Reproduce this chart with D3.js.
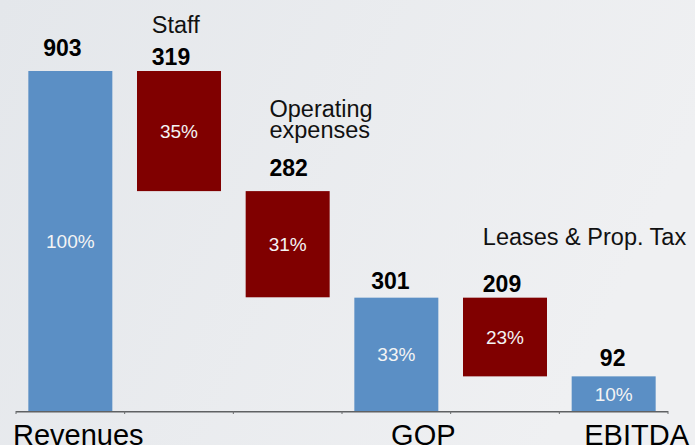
<!DOCTYPE html>
<html>
<head>
<meta charset="utf-8">
<script src="https://cdn.jsdelivr.net/npm/d3@7"></script>
<style>
  body { margin: 0; }
  text { font-family: "Liberation Sans", Arial, sans-serif; }
</style>
</head>
<body>
<div id="chart"></div>
<script>
// waterfall data
const categories = ["Revenues", "Staff", "Operating expenses", "GOP", "Leases & Prop. Tax", "EBITDA"]
const values = [903, 319, 282, 301, 209, 92]
const percents = ["100%", "35%", "31%", "33%", "23%", "10%"]
const kinds = ["total", "cost", "cost", "total", "cost", "total"]
const nameLines = [[], ["Staff"], ["Operating", "expenses"], [], ["Leases & Prop. Tax"], []]
const axisLabels = ["Revenues", "", "", "GOP", "", "EBITDA"]

// label nudges (layout only)
const valueDx = [-8, -8, 1, -6, -3, -1]
const valueGap = [15, 6, 15, 9, 6, 10]
const nameGap = [0, 32, 38, 0, 47, 0]
const axisDx = [8, 0, 0, 27, 0, 23]

const W = 695, H = 445
const baseY = 411

const svg = d3.select("#chart")
  .append("svg")
  .attr("width", W)
  .attr("height", H)

// background
const grad = svg.append("defs").append("linearGradient")
  .attr("id", "bg").attr("x1", "0").attr("y1", "0").attr("x2", "1").attr("y2", "0.3")
grad.append("stop").attr("offset", "0").attr("stop-color", "#e4e7eb")
grad.append("stop").attr("offset", "1").attr("stop-color", "#eff0f2")
svg.append("rect").attr("width", W).attr("height", H).attr("fill", "url(#bg)")

// scales
const x = d3.scaleBand()
  .domain(categories)
  .range([16, 668])
  .paddingInner(0.227)
  .paddingOuter(0.1135)

const y = d3.scaleLinear()
  .domain([0, 903])
  .range([baseY, 71])

// running totals for the floating bars
let running = 0
const bars = categories.map((c, i) => {
  let lo, hi
  if (kinds[i] === "total") {
    lo = 0; hi = values[i]; running = values[i]
  } else {
    hi = running; lo = running - values[i]; running = lo
  }
  return {cat: c, lo: lo, hi: hi, i: i}
})

// axis line with ticks at band edges
const step = x.step()
svg.append("line")
  .attr("x1", 16).attr("x2", 668)
  .attr("y1", baseY + 0.75).attr("y2", baseY + 0.75)
  .attr("stroke", "#5f6163").attr("stroke-width", 1.5)
d3.range(categories.length + 1).forEach(k => {
  const tx = 16 + k * step
  svg.append("line")
    .attr("x1", tx).attr("x2", tx)
    .attr("y1", baseY).attr("y2", baseY + 3)
    .attr("stroke", "#6a6c6e").attr("stroke-width", 1)
})

// bars
svg.selectAll("rect.bar")
  .data(bars)
  .enter()
  .append("rect")
    .attr("class", "bar")
    .attr("x", d => x(d.cat))
    .attr("y", d => y(d.hi))
    .attr("width", x.bandwidth())
    .attr("height", d => y(d.lo) - y(d.hi))
    .attr("fill", d => kinds[d.i] === "total" ? "#5b8fc5" : "#800000")

// percentages inside bars
svg.selectAll("text.pct")
  .data(bars)
  .enter()
  .append("text")
    .attr("class", "pct")
    .attr("x", d => x(d.cat) + x.bandwidth() / 2)
    .attr("y", d => (y(d.lo) + y(d.hi)) / 2 + 7)
    .attr("text-anchor", "middle")
    .attr("fill", "#f4f4f4")
    .style("font-size", "19px")
    .text(d => percents[d.i])

// value labels and names above
bars.forEach(d => {
  const lbl = svg.append("text")
    .attr("x", x(d.cat) + x.bandwidth() / 2 + valueDx[d.i])
    .attr("y", y(d.hi) - valueGap[d.i])
    .attr("text-anchor", "middle")
    .attr("fill", "#000")
    .style("font-size", "23px")
    .style("font-weight", "bold")
    .text(values[d.i])
  const left = lbl.node().getBBox().x
  const lines = nameLines[d.i]
  lines.forEach((ln, j) => {
    svg.append("text")
      .attr("x", left)
      .attr("y", y(d.hi) - valueGap[d.i] - nameGap[d.i] - (lines.length - 1 - j) * 21)
      .attr("fill", "#111")
      .style("font-size", "23.5px")
      .text(ln)
  })
})

// category labels under axis
svg.selectAll("text.cat")
  .data(bars)
  .enter()
  .append("text")
    .attr("class", "cat")
    .attr("x", d => x(d.cat) + x.bandwidth() / 2 + axisDx[d.i])
    .attr("y", 445)
    .attr("text-anchor", "middle")
    .attr("fill", "#000")
    .style("font-size", "29px")
    .text(d => axisLabels[d.i])
</script>
</body>
</html>
